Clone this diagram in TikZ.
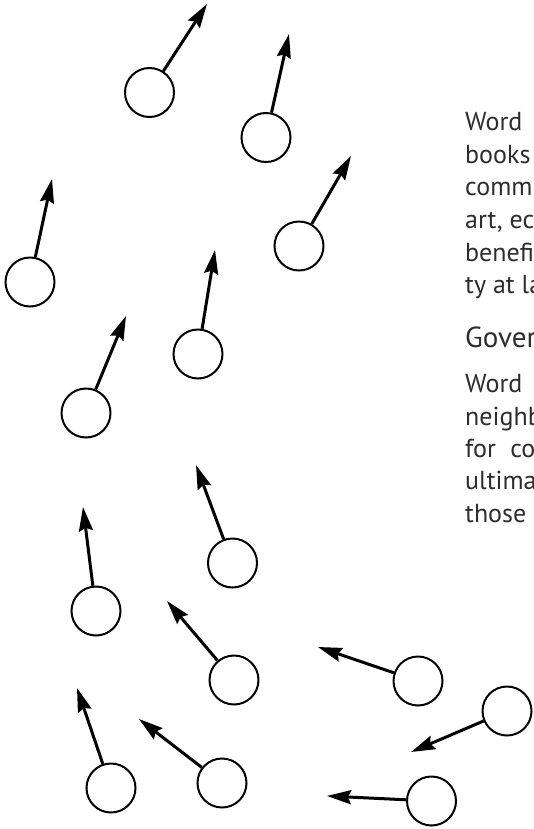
\documentclass[tikz,border=0pt]{standalone}
\usepackage{fontspec}
\setmainfont{PT Sans}
\usetikzlibrary{arrows.meta}
\definecolor{txt}{RGB}{45,45,45}
\begin{document}
\begin{tikzpicture}[x=1pt,y=-1pt,
  ball/.style={circle,draw=black,line width=2pt,minimum size=49pt,inner sep=0pt,fill=white},
  mover/.style={line width=3pt,-{Stealth[length=24pt,width=14pt,inset=3pt]}},
  body/.style={anchor=base west,inner sep=0pt,text=txt,font=\fontsize{26}{32}\selectfont},
  heading/.style={anchor=base west,inner sep=0pt,text=txt,font=\fontsize{29}{34}\selectfont}]
\useasboundingbox (0,0) rectangle (533,829);
\begin{scope}
\clip (0,0) rectangle (533,829);
\node[body] (l1) at (465,131) {Word\hspace{0.6em}on the Street};
\node[body] (l2) at (465,164) {books\hspace{0.4em}and magazines};
\node[body] (l3) at (465,196) {community of readers};
\node[body] (l4) at (465,228) {art, economy and};
\node[body] (l5) at (465,261) {benefits the communi-};
\node[body] (l6) at (465,293) {ty at large.};
\node[heading] (h1) at (465,347) {Governance};
\node[body] (l7) at (465,392) {Word\hspace{0.6em}on the Street};
\node[body] (l8) at (465,425) {neighbourhoods and};
\node[body] (l9) at (465,457) {for\hspace{0.55em}community};
\node[body] (l10) at (465,489) {ultimately to};
\node[body] (l11) at (465,522) {those\hspace{0.5em}who};
\end{scope}
\foreach \n/\cx/\cy/\tx/\ty in {
  1/149.5/92.5/207/4,
  2/266/137.5/289/34,
  3/299/246/351/156,
  4/30/282/52/179,
  5/198/354/215/250,
  6/86/413/126/316,
  7/232.5/563/196/465,
  8/96/611/83/507,
  9/234/680/167/601,
  10/418/681/318/647,
  11/507/711/411/752,
  12/222/783/139/719,
  13/111/788/77/688,
  14/431.5/801/327/796}{
  \node[ball] (c\n) at (\cx,\cy) {};
  \coordinate (t\n) at (\tx,\ty);
  \draw[mover] (c\n) -- (t\n);
}
\end{tikzpicture}
\end{document}
